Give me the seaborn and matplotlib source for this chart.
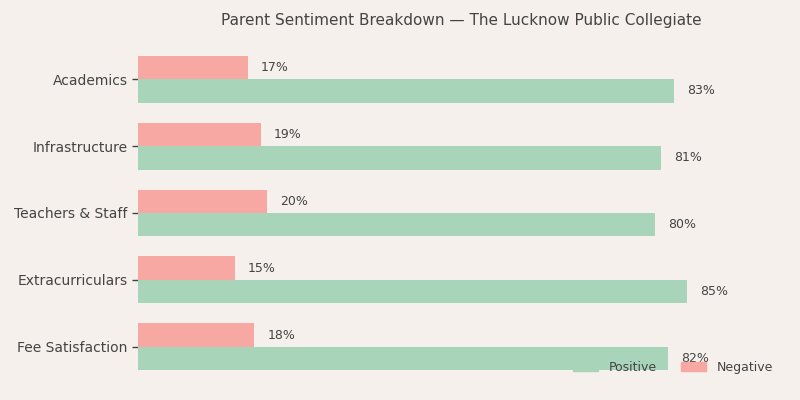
import pandas as pd
import matplotlib.pyplot as plt
import seaborn as sns
from matplotlib.patches import Patch

categories = ['Academics', 'Infrastructure', 'Teachers & Staff', 'Extracurriculars', 'Fee Satisfaction']
positive = [83, 81, 80, 85, 82]
negative = [17, 19, 20, 15, 18]

BG = '#f5f0eb'
TXT = '#444444'
palette = {'Negative': '#f7a8a3', 'Positive': '#a8d5b9'}

df = pd.DataFrame({
    'Aspect': categories * 2,
    'Share': negative + positive,
    'Sentiment': ['Negative'] * len(categories) + ['Positive'] * len(categories),
})

sns.set_theme(style='white')
plt.rcParams['font.family'] = ['DejaVu Sans']

fig, ax = plt.subplots(figsize=(8, 4), dpi=100)
fig.patch.set_facecolor(BG)
ax.set_facecolor(BG)

sns.barplot(data=df, y='Aspect', x='Share', hue='Sentiment', order=categories,
            hue_order=['Negative', 'Positive'], palette=palette, width=0.7,
            orient='h', saturation=1, linewidth=0, ax=ax, legend=False)

# value labels
for cont in ax.containers:
    for bar in cont:
        w = bar.get_width()
        ax.text(w + 2, bar.get_y() + bar.get_height() / 2, f'{w:.0f}%',
                va='center', ha='left', fontsize=9, color=TXT)

ax.set_xlim(0, 100)
ax.set_xlabel('')
ax.set_ylabel('')
ax.set_xticks([])
ax.tick_params(axis='y', length=4, width=1, color=TXT, labelsize=10, labelcolor=TXT, left=True)
for s in ax.spines.values():
    s.set_visible(False)

ax.set_title('Parent Sentiment Breakdown \u2014 The Lucknow Public Collegiate',
             fontsize=11, color=TXT, pad=15)

handles = [Patch(color=palette['Positive'], label='Positive'),
           Patch(color=palette['Negative'], label='Negative')]
ax.legend(handles=handles, loc='lower right', ncol=2, frameon=False, fontsize=9,
          labelcolor=TXT, bbox_to_anchor=(1.0, -0.015))

plt.subplots_adjust(left=0.1725, right=0.98, top=0.8856, bottom=0.0494)
fig.savefig('out.png', dpi=100, facecolor=BG)
